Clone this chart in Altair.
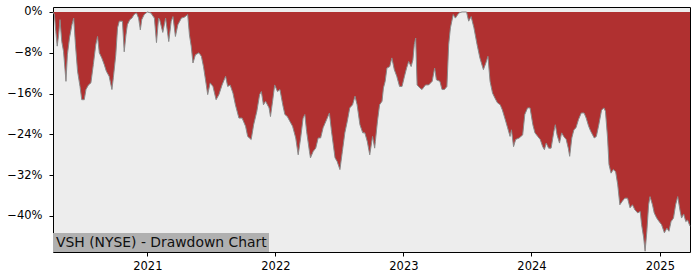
import altair as alt
import pandas as pd

title_text = "VSH (NYSE) - Drawdown Chart"

dates = [
    "2020-04-07", "2020-04-11", "2020-04-15", "2020-04-19", "2020-04-23", "2020-04-27",
    "2020-05-02", "2020-05-07", "2020-05-14", "2020-05-18", "2020-05-24", "2020-05-31",
    "2020-06-05", "2020-06-10", "2020-06-16", "2020-06-23", "2020-06-28", "2020-07-05",
    "2020-07-10", "2020-07-17", "2020-07-24", "2020-07-31", "2020-08-07", "2020-08-12",
    "2020-08-17", "2020-08-24", "2020-08-31", "2020-09-06", "2020-09-14", "2020-09-22",
    "2020-09-26", "2020-10-03", "2020-10-08", "2020-10-13", "2020-10-22", "2020-10-27",
    "2020-11-01", "2020-11-05", "2020-11-12", "2020-11-18", "2020-11-24", "2020-12-01",
    "2020-12-07", "2020-12-12", "2020-12-16", "2020-12-23",
    "2021-01-01", "2021-01-11", "2021-01-21", "2021-01-27", "2021-02-02", "2021-02-05",
    "2021-02-14", "2021-02-22", "2021-03-03", "2021-03-10", "2021-03-15", "2021-03-22",
    "2021-03-29", "2021-04-08", "2021-04-17", "2021-04-26", "2021-05-01", "2021-05-06",
    "2021-05-11", "2021-05-18", "2021-05-28", "2021-06-04", "2021-06-10", "2021-06-18",
    "2021-06-22", "2021-06-29", "2021-07-07", "2021-07-16", "2021-07-24", "2021-08-02",
    "2021-08-12", "2021-08-18", "2021-08-25", "2021-09-02", "2021-09-09", "2021-09-19",
    "2021-09-28", "2021-10-08", "2021-10-14", "2021-10-24", "2021-10-31", "2021-11-09",
    "2021-11-17", "2021-11-22", "2021-11-28", "2021-12-04", "2021-12-14", "2021-12-18",
    "2021-12-24", "2021-12-30",
    "2022-01-07", "2022-01-14", "2022-01-22", "2022-01-28", "2022-02-04", "2022-02-11",
    "2022-02-19", "2022-02-28", "2022-03-07", "2022-03-14", "2022-03-21", "2022-03-26",
    "2022-03-31", "2022-04-08", "2022-04-11", "2022-04-19", "2022-04-26", "2022-05-03",
    "2022-05-10", "2022-05-17", "2022-05-27", "2022-06-04", "2022-06-10", "2022-06-15",
    "2022-06-20", "2022-06-26", "2022-07-04", "2022-07-11", "2022-07-18", "2022-07-25",
    "2022-08-01", "2022-08-09", "2022-08-16", "2022-08-22", "2022-08-30", "2022-09-07",
    "2022-09-13", "2022-09-20", "2022-09-27", "2022-10-05", "2022-10-11", "2022-10-13",
    "2022-10-19", "2022-10-25", "2022-11-01", "2022-11-05", "2022-11-10", "2022-11-15",
    "2022-11-23", "2022-11-29", "2022-12-06", "2022-12-13", "2022-12-21", "2022-12-28",
    "2023-01-04", "2023-01-10", "2023-01-16", "2023-01-23", "2023-01-28", "2023-02-01",
    "2023-02-05", "2023-02-09", "2023-02-17", "2023-02-23", "2023-03-05", "2023-03-14",
    "2023-03-24", "2023-03-31", "2023-04-05", "2023-04-15", "2023-04-21", "2023-04-28",
    "2023-05-05", "2023-05-10", "2023-05-15", "2023-05-23", "2023-05-29", "2023-06-08",
    "2023-06-17", "2023-06-30", "2023-07-06", "2023-07-13", "2023-07-21", "2023-07-30",
    "2023-08-07", "2023-08-17", "2023-08-24", "2023-08-30", "2023-09-05", "2023-09-12",
    "2023-09-19", "2023-09-26", "2023-10-04", "2023-10-10", "2023-10-17", "2023-10-25",
    "2023-11-01", "2023-11-05", "2023-11-11", "2023-11-17", "2023-11-27", "2023-12-07",
    "2023-12-13", "2023-12-21", "2023-12-28",
    "2024-01-05", "2024-01-11", "2024-01-19", "2024-01-26", "2024-02-02", "2024-02-07",
    "2024-02-12", "2024-02-19", "2024-02-26", "2024-03-05", "2024-03-09", "2024-03-14",
    "2024-03-21", "2024-03-27", "2024-04-02", "2024-04-09", "2024-04-15", "2024-04-19",
    "2024-04-25", "2024-05-01", "2024-05-07", "2024-05-14", "2024-05-22", "2024-05-30",
    "2024-06-05", "2024-06-12", "2024-06-18", "2024-06-28", "2024-07-04", "2024-07-11",
    "2024-07-19", "2024-07-26", "2024-07-30", "2024-08-05", "2024-08-09", "2024-08-15",
    "2024-08-21", "2024-08-28", "2024-09-03", "2024-09-09", "2024-09-16", "2024-09-23",
    "2024-10-01", "2024-10-08", "2024-10-15", "2024-10-22", "2024-10-30", "2024-11-06",
    "2024-11-10", "2024-11-16", "2024-11-20", "2024-11-25", "2024-11-30", "2024-12-04",
    "2024-12-11", "2024-12-16", "2024-12-23", "2024-12-30",
    "2025-01-06", "2025-01-14", "2025-01-21", "2025-01-27", "2025-02-02", "2025-02-09",
    "2025-02-15", "2025-02-21", "2025-02-28", "2025-03-04", "2025-03-10", "2025-03-16",
    "2025-03-21", "2025-03-28",
]

drawdown = [
    0.0, -0.5, -3.8, -6.7, -4.5, -1.5,
    -5.8, -7.7, -13.6, -8.4, -5.1, -2.5,
    -1.2, -6.4, -11.6, -14.6, -17.2, -17.2,
    -15.2, -14.3, -13.9, -10.3, -6.4, -4.8,
    -8.0, -9.0, -10.3, -11.6, -12.6, -15.2,
    -12.9, -8.4, -3.1, -1.8, -1.8, -7.8,
    -4.5, -2.5, -1.5, -1.2, -0.5, -0.2,
    -1.2, -3.5, -1.5, -0.5,
    0.0, -0.2, -1.2, -6.0, -1.2, -1.5,
    -4.0, -1.2, -5.8, -1.8, -0.9, -4.8,
    -2.5, -1.2, -1.0, -0.5, -4.5, -6.7,
    -10.0, -8.4, -8.0, -8.7, -10.7, -14.3,
    -16.2, -13.9, -14.6, -17.2, -16.2, -14.3,
    -12.6, -14.6, -14.3, -15.9, -18.2, -20.8,
    -20.8, -22.4, -24.4, -25.0, -22.1, -19.5,
    -16.2, -15.6, -18.2, -17.5, -18.8, -20.5,
    -17.5, -14.3,
    -15.6, -15.2, -18.2, -20.1, -20.5, -21.4,
    -22.4, -24.7, -28.0, -24.7, -20.8, -20.1,
    -23.4, -27.3, -28.6, -27.3, -26.7, -24.7,
    -24.7, -22.7, -21.1, -19.8, -23.4, -26.0,
    -28.6, -29.3, -30.9, -27.3, -23.7, -21.4,
    -18.8, -18.2, -16.5, -18.2, -22.1, -23.7,
    -23.7, -25.4, -28.0, -24.4, -26.7, -25.4,
    -21.4, -18.2, -17.5, -14.9, -13.6, -11.0,
    -10.7, -9.0, -11.3, -12.6, -14.6, -14.6,
    -12.6, -11.0, -9.7, -10.7, -9.4, -6.4,
    -5.1, -14.3, -14.9, -15.2, -14.3, -14.3,
    -13.6, -11.0, -13.3, -13.6, -15.2, -15.2,
    -14.6, -6.4, -3.1, -0.5, -1.2, -0.2,
    0.0, 0.0, -1.8, -0.9, -3.1, -6.4,
    -9.0, -11.3, -10.0, -8.7, -13.6, -15.9,
    -16.9, -17.8, -18.2, -19.2, -20.8, -22.7,
    -24.4, -23.1, -26.4, -25.0, -24.7, -24.1,
    -20.1, -18.8, -18.8,
    -22.1, -23.7, -24.4, -25.0, -26.4, -27.0,
    -25.7, -26.7, -26.7, -23.4, -22.1, -24.1,
    -25.7, -23.7, -24.4, -25.0, -26.7, -28.3,
    -24.7, -23.1, -22.7, -21.1, -19.8, -19.8,
    -20.8, -22.4, -23.4, -24.7, -24.4, -22.1,
    -19.2, -18.8, -19.5, -24.7, -29.9, -31.6,
    -30.9, -31.3, -33.9, -37.8, -37.1, -36.5,
    -36.5, -38.4, -37.8, -38.8, -39.4, -39.1,
    -41.7, -44.3, -46.9, -43.0, -37.8, -36.2,
    -37.8, -39.4, -40.4, -41.1,
    -41.7, -43.3, -42.4, -43.0, -41.1, -40.4,
    -37.8, -36.2, -39.1, -40.4, -39.6, -41.1,
    -40.8, -42.0,
]

y_ticks = [0, -8, -16, -24, -32, -40]
x_start = "2020-04-07"
x_end = "2025-03-28"

df = pd.DataFrame({"date": dates, "dd": drawdown})

FONT = "DejaVu Sans"

x_enc = alt.X(
    "date:T",
    scale=alt.Scale(type="utc", domain=[x_start, x_end], nice=False),
    axis=alt.Axis(
        title=None, format="%Y", tickCount="year", grid=False, domain=False,
        tickColor="black", tickSize=4, tickWidth=1, labelColor="black",
        labelFont=FONT, labelFontSize=11.5, labelPadding=4,
    ),
)
y_enc = alt.Y(
    "dd:Q",
    scale=alt.Scale(domain=[-47.06, 0.98], nice=False, zero=False),
    axis=alt.Axis(
        title=None, values=y_ticks, grid=False, domain=False,
        labelExpr="datum.value == 0 ? '0%' : '\u2212' + abs(datum.value) + '%'",
        tickColor="black", tickSize=4, tickWidth=1, labelColor="black",
        labelFont=FONT, labelFontSize=11.5, labelPadding=7,
    ),
)

base = alt.Chart(df)

area = base.mark_area(color="#b03030", opacity=1, interpolate="linear").encode(
    x=x_enc, y=y_enc, y2=alt.datum(0)
)
line = base.mark_line(color="#8a8a8a", strokeWidth=1, interpolate="linear").encode(
    x="date:T", y="dd:Q"
)

label_bg = alt.Chart(pd.DataFrame({"t": [title_text]})).mark_rect(
    color="#b0b0b0"
).encode(
    x=alt.value(0), x2=alt.value(216), y=alt.value(226), y2=alt.value(245)
)
label = alt.Chart(pd.DataFrame({"t": [title_text]})).mark_text(
    align="left", baseline="alphabetic", font=FONT, fontSize=13.9, color="#111111"
).encode(
    x=alt.value(3), y=alt.value(240), text="t:N"
)

chart = (
    alt.layer(area, line, label_bg, label)
    .properties(
        width=637, height=245,
        padding={"left": 53, "top": 7, "right": 10, "bottom": 28},
        autosize="none",
        background="white",
    )
    .configure_view(fill="#ededed", stroke="black", strokeWidth=1)
)

chart.save("out.html", embed_options={"renderer": "svg", "actions": False})
